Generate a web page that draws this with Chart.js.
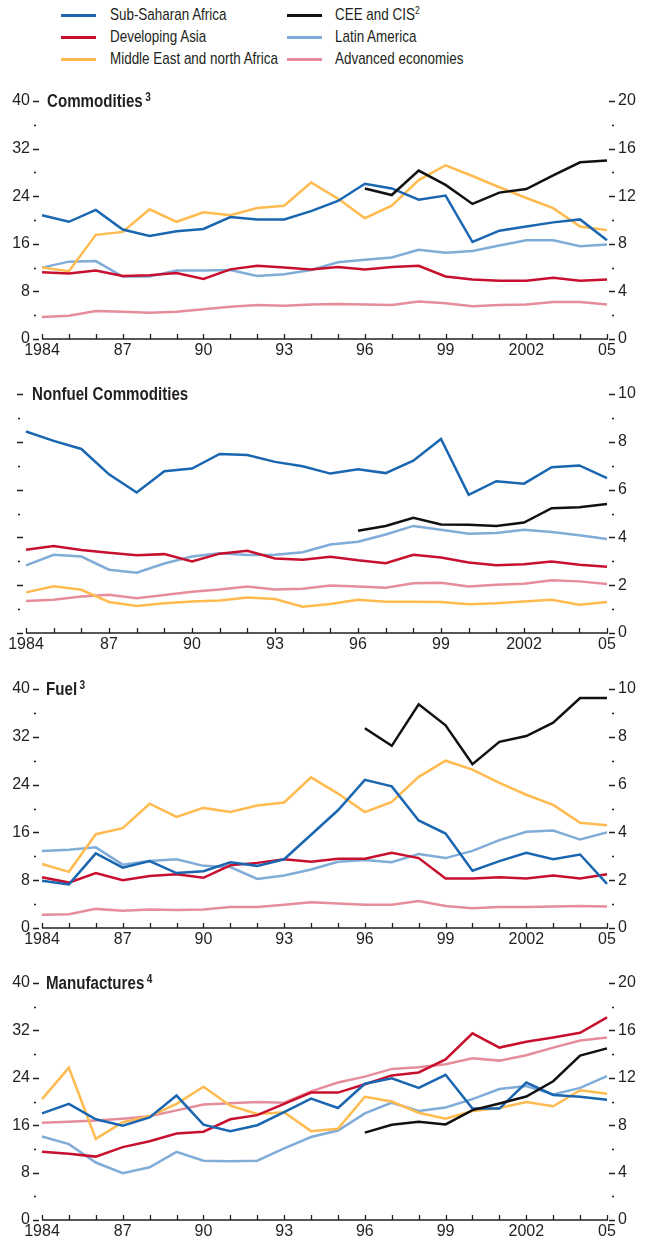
<!DOCTYPE html>
<html>
<head>
<meta charset="utf-8">
<script src="https://cdn.jsdelivr.net/npm/chart.js@4.4.1/dist/chart.umd.min.js"></script>
<style>
  body { margin: 0; background: #fff; }
  #lienzo {
    position: relative; width: 645px; height: 1241px; overflow: hidden;
    font-family: 'Liberation Sans Narrow', 'Liberation Sans', Arial, sans-serif;
    color: #231f20;
  }
  canvas { position: absolute; left: 0; }
  .titulo {
    position: absolute; font-weight: bold; font-size: 18px; line-height: 18px; white-space: nowrap;
    transform: scaleX(0.84); transform-origin: left center;
  }
  .titulo sup { font-size: 12px; vertical-align: 0; position: relative; top: -6px; margin-left: 3px; }
  .item {
    position: absolute; font-size: 17px; line-height: 18px; white-space: nowrap;
    transform: scaleX(0.79); transform-origin: left center;
  }
  .item sup { font-size: 11px; position: relative; top: -6px; vertical-align: 0; }
  .muestra { position: absolute; height: 3px; width: 35px; }
</style>
</head>
<body>
<div id="lienzo">
  <!-- Leyenda -->
  <div class="muestra" style="left:61px;top:14px;background:#1a66b0"></div>
  <div class="item" style="left:110px;top:6px">Sub-Saharan Africa</div>
  <div class="muestra" style="left:61px;top:36px;background:#c8102e"></div>
  <div class="item" style="left:110px;top:28px">Developing Asia</div>
  <div class="muestra" style="left:61px;top:58px;background:#ffbb4f"></div>
  <div class="item" style="left:110px;top:50px">Middle East and north Africa</div>
  <div class="muestra" style="left:287px;top:14px;background:#111"></div>
  <div class="item" style="left:335px;top:6px">CEE and CIS<sup>2</sup></div>
  <div class="muestra" style="left:287px;top:36px;background:#80acd8"></div>
  <div class="item" style="left:335px;top:28px">Latin America</div>
  <div class="muestra" style="left:287px;top:58px;background:#e68d9c"></div>
  <div class="item" style="left:335px;top:50px">Advanced economies</div>

  <canvas id="g1" width="645" height="279" style="top:81px"></canvas>
  <canvas id="g2" width="645" height="280" style="top:374px"></canvas>
  <canvas id="g3" width="645" height="280" style="top:669px"></canvas>
  <canvas id="g4" width="645" height="278" style="top:963px"></canvas>

  <div class="titulo" style="left:47px;top:92px">Commodities<sup>3</sup></div>
  <div class="titulo" style="left:32px;top:385px">Nonfuel Commodities</div>
  <div class="titulo" style="left:46px;top:680px">Fuel<sup>3</sup></div>
  <div class="titulo" style="left:46px;top:974px">Manufactures<sup>4</sup></div>
</div>

<script>
// Años y etiquetas del eje X
const anios = ['1984','1985','1986','1987','1988','1989','1990','1991','1992','1993','1994',
               '1995','1996','1997','1998','1999','2000','2001','2002','2003','2004','2005'];
const etiquetasAnio = ['1984','','','87','','','90','','','93','','',
                       '96','','','99','','','2002','','','05'];

const sinDatos = [null,null,null,null,null,null,null,null,null,null,null,null];

// Commodities (eje izquierdo; CEE y CIS en eje derecho)
const comSSA = [20.8,19.7,21.7,18.4,17.3,18.1,18.5,20.5,20.1,20.1,21.5,23.2,26.1,25.3,23.4,24.1,16.3,18.2,18.9,19.6,20.1,16.6];
const comAsia = [11.2,11.0,11.5,10.6,10.7,11.1,10.1,11.7,12.3,12.0,11.7,12.1,11.7,12.1,12.3,10.5,10.0,9.8,9.8,10.3,9.8,10.0];
const comMENA = [12.0,11.4,17.5,18.0,21.8,19.7,21.3,20.8,22.0,22.4,26.3,23.6,20.3,22.4,26.7,29.2,27.4,25.5,23.7,22.0,18.9,18.3];
const comLatAm = [12.0,13.0,13.1,10.5,10.5,11.5,11.5,11.6,10.6,10.9,11.6,12.9,13.3,13.7,15.0,14.5,14.8,15.7,16.6,16.6,15.6,15.9];
const comAvz = [3.7,3.9,4.7,4.6,4.4,4.6,5.0,5.4,5.7,5.6,5.8,5.9,5.8,5.7,6.3,6.0,5.5,5.7,5.8,6.2,6.2,5.8];
const comCEE = sinDatos.concat([12.65,12.1,14.15,12.95,11.35,12.3,12.6,13.75,14.85,15.0]);

// Nonfuel Commodities (eje derecho)
const nfSSA = [8.43,8.04,7.70,6.64,5.88,6.77,6.88,7.49,7.45,7.16,6.98,6.67,6.85,6.69,7.21,8.12,5.78,6.35,6.25,6.94,7.01,6.48];
const nfAsia = [3.48,3.64,3.47,3.36,3.25,3.30,2.99,3.32,3.44,3.12,3.06,3.19,3.04,2.92,3.27,3.16,2.95,2.83,2.88,2.99,2.86,2.77];
const nfMENA = [1.70,1.96,1.81,1.30,1.13,1.24,1.32,1.36,1.49,1.42,1.10,1.21,1.39,1.31,1.31,1.30,1.20,1.24,1.32,1.39,1.18,1.30];
const nfLatAm = [2.83,3.27,3.20,2.65,2.52,2.91,3.20,3.34,3.26,3.27,3.38,3.70,3.82,4.12,4.48,4.32,4.15,4.18,4.32,4.23,4.09,3.93];
const nfAvz = [1.34,1.39,1.53,1.60,1.45,1.59,1.73,1.82,1.95,1.82,1.85,1.99,1.95,1.89,2.08,2.10,1.95,2.02,2.06,2.21,2.16,2.05];
const nfCEE = sinDatos.concat([4.28,4.48,4.82,4.54,4.53,4.48,4.62,5.22,5.26,5.40]);

// Fuel (eje izquierdo; CEE y CIS en eje derecho)
const fuSSA = [7.9,7.3,12.5,10.1,11.2,9.2,9.5,11.0,10.4,11.5,15.6,19.7,24.8,23.7,18.0,15.8,9.6,11.2,12.6,11.5,12.3,7.4];
const fuAsia = [8.5,7.6,9.2,8.0,8.7,9.0,8.4,10.5,10.9,11.5,11.1,11.6,11.6,12.6,11.7,8.3,8.3,8.5,8.3,8.8,8.3,9.0];
const fuMENA = [10.7,9.4,15.7,16.7,20.8,18.6,20.1,19.4,20.5,21.0,25.2,22.5,19.4,21.1,25.3,28.0,26.5,24.3,22.3,20.6,17.6,17.2];
const fuLatAm = [12.9,13.1,13.5,10.6,11.2,11.5,10.4,10.2,8.2,8.8,9.8,11.1,11.4,11.0,12.4,11.7,12.9,14.7,16.1,16.3,14.8,16.0];
const fuAvz = [2.2,2.3,3.2,2.9,3.1,3.0,3.1,3.5,3.5,3.9,4.3,4.1,3.9,3.9,4.5,3.7,3.3,3.5,3.5,3.6,3.7,3.6];
const fuCEE = sinDatos.concat([8.36,7.62,9.36,8.48,6.85,7.79,8.03,8.59,9.62,9.62]);

// Manufactures (eje izquierdo; CEE y CIS en eje derecho)
const maSSA = [18.0,19.6,17.0,15.9,17.3,21.0,16.1,15.0,16.0,18.2,20.5,18.9,23.0,23.9,22.3,24.5,18.8,18.8,23.2,21.1,20.8,20.3];
const maAsia = [11.5,11.2,10.7,12.3,13.3,14.6,14.9,17.0,17.7,19.6,21.5,21.5,22.9,24.4,24.9,27.1,31.5,29.1,30.1,30.8,31.6,34.2];
const maMENA = [20.4,25.7,13.7,16.5,17.5,19.6,22.5,19.3,17.9,18.2,15.0,15.4,20.8,20.0,18.1,17.1,18.4,18.9,19.9,19.2,21.9,21.3];
const maLatAm = [14.1,12.8,9.7,7.9,8.9,11.5,10.0,9.9,10.0,12.1,14.0,15.1,18.0,19.8,18.4,19.0,20.4,22.1,22.6,21.2,22.3,24.3];
const maAvz = [16.4,16.6,16.8,17.1,17.5,18.5,19.5,19.7,19.9,19.8,21.7,23.2,24.2,25.5,25.8,26.3,27.3,26.9,27.8,29.1,30.3,30.8];
const maCEE = sinDatos.concat([7.37,8.04,8.29,8.07,9.27,9.83,10.42,11.71,13.87,14.48]);

const colores = {
  ssa: '#1a66b0', asia: '#c8102e', mena: '#ffbb4f',
  cee: '#111111', latam: '#80acd8', avz: '#e68d9c'
};
const fuente = "'Liberation Sans Narrow', 'Liberation Sans', Arial, sans-serif";
const tinta = '#231f20';

// Marcas de los ejes: ticks del eje X hacia dentro, guiones cortos y largos en Y
const marcasEjes = {
  id: 'marcasEjes',
  afterDraw(chart) {
    const ctx = chart.ctx;
    const area = chart.chartArea;
    ctx.save();
    ctx.strokeStyle = tinta;
    ctx.lineWidth = 1.3;
    ctx.beginPath();
    ctx.moveTo(area.left, area.bottom);
    ctx.lineTo(area.right + 1, area.bottom);
    const sx = chart.scales.x;
    sx.ticks.forEach((t, i) => {
      const px = Math.round(sx.getPixelForTick(i)) + 0.5;
      ctx.moveTo(px, area.bottom);
      ctx.lineTo(px, area.bottom - 5);
    });
    ['y', 'y2'].forEach(id => {
      const s = chart.scales[id];
      const paso = s.options.pasoMayor;
      s.ticks.forEach((t, i) => {
        const py = Math.round(s.getPixelForTick(i)) + 0.5;
        const mayor = Math.abs(t.value % paso) < 1e-6;
        if (id === 'y') {
          if (mayor) { ctx.moveTo(area.left - 9, py); ctx.lineTo(area.left - 3, py); }
          else { ctx.moveTo(area.left - 8, py); ctx.lineTo(area.left - 6, py); }
        } else {
          if (mayor) { ctx.moveTo(area.right + 2, py); ctx.lineTo(area.right + 8, py); }
          else { ctx.moveTo(area.right + 5, py); ctx.lineTo(area.right + 7, py); }
        }
      });
    });
    ctx.stroke();
    ctx.restore();
  }
};

function serie(datos, color, eje) {
  return {
    data: datos, borderColor: color, backgroundColor: color,
    borderWidth: 2.5, pointRadius: 0, tension: 0, spanGaps: false,
    yAxisID: eje
  };
}

function ejeY(pos, max, paso, pasoMayor, ancho, conEtiquetas) {
  return {
    position: pos, min: 0, max: max, pasoMayor: pasoMayor,
    grid: { display: false, drawTicks: false }, border: { display: false },
    ticks: {
      stepSize: paso, color: tinta, padding: pos === 'left' ? 12 : 11,
      font: { family: fuente, size: 16 },
      callback: v => (conEtiquetas && v % pasoMayor === 0) ? v : ''
    },
    afterFit: s => { s.width = ancho; s.paddingTop = 0; s.paddingBottom = 0; }
  };
}

function panel(id, series, izq, der) {
  new Chart(document.getElementById(id), {
    type: 'line',
    data: { labels: anios, datasets: series },
    options: {
      responsive: false, animation: false,
      layout: { padding: { top: 20, left: 0, right: 0, bottom: 0 } },
      plugins: { legend: { display: false }, tooltip: { enabled: false } },
      scales: {
        x: {
          offset: false,
          grid: { display: false, drawTicks: false }, border: { display: false },
          ticks: {
            autoSkip: false, maxRotation: 0, padding: 2, color: tinta,
            font: { family: fuente, size: 16 },
            callback: (v, i) => etiquetasAnio[i]
          },
          afterFit: s => { s.height = 21; s.paddingLeft = 0; s.paddingRight = 0; }
        },
        y: izq,
        y2: der
      }
    },
    plugins: [marcasEjes]
  });
}

panel('g1', [
  serie(comCEE, colores.cee, 'y2'),
  serie(comSSA, colores.ssa, 'y'),
  serie(comAsia, colores.asia, 'y'),
  serie(comMENA, colores.mena, 'y'),
  serie(comLatAm, colores.latam, 'y'),
  serie(comAvz, colores.avz, 'y')
], ejeY('left', 40, 4, 8, 42, true), ejeY('right', 20, 2, 4, 38, true));

panel('g2', [
  serie(nfCEE, colores.cee, 'y2'),
  serie(nfSSA, colores.ssa, 'y2'),
  serie(nfAsia, colores.asia, 'y2'),
  serie(nfMENA, colores.mena, 'y2'),
  serie(nfLatAm, colores.latam, 'y2'),
  serie(nfAvz, colores.avz, 'y2')
], ejeY('left', 10, 1, 2, 26, false), ejeY('right', 10, 1, 2, 38, true));

panel('g3', [
  serie(fuCEE, colores.cee, 'y2'),
  serie(fuSSA, colores.ssa, 'y'),
  serie(fuAsia, colores.asia, 'y'),
  serie(fuMENA, colores.mena, 'y'),
  serie(fuLatAm, colores.latam, 'y'),
  serie(fuAvz, colores.avz, 'y')
], ejeY('left', 40, 4, 8, 42, true), ejeY('right', 10, 1, 2, 38, true));

panel('g4', [
  serie(maCEE, colores.cee, 'y2'),
  serie(maSSA, colores.ssa, 'y'),
  serie(maAsia, colores.asia, 'y'),
  serie(maMENA, colores.mena, 'y'),
  serie(maLatAm, colores.latam, 'y'),
  serie(maAvz, colores.avz, 'y')
], ejeY('left', 40, 4, 8, 42, true), ejeY('right', 20, 2, 4, 38, true));
</script>
</body>
</html>
